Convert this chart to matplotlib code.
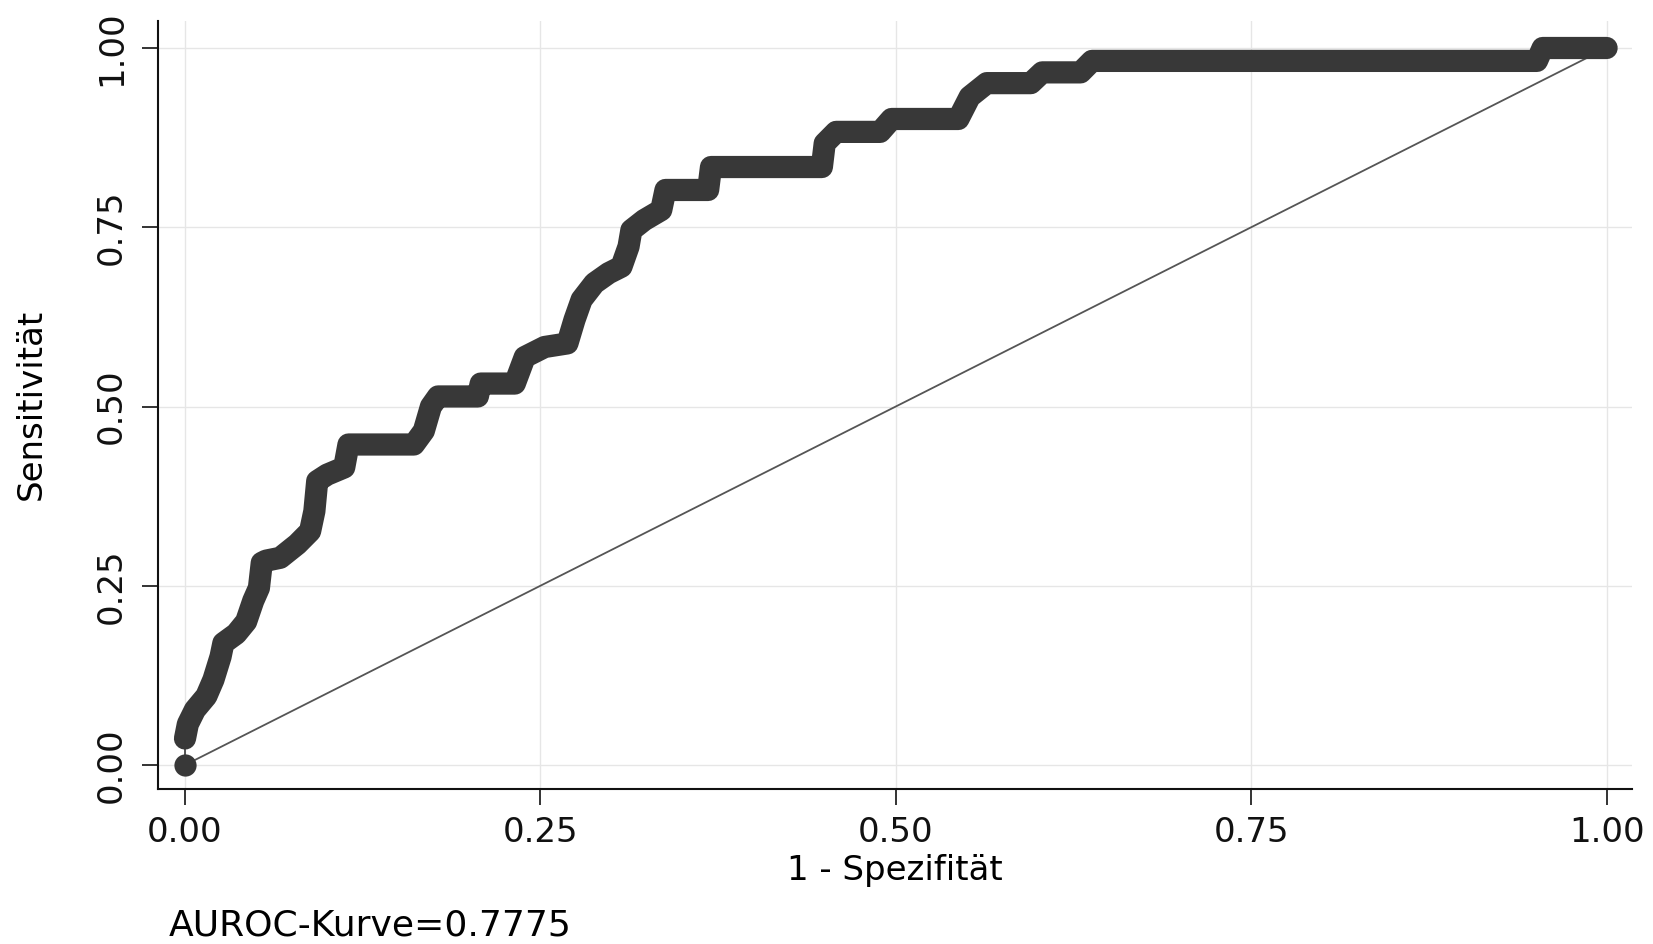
import matplotlib
matplotlib.use("Agg")
import matplotlib.pyplot as plt

plt.rcParams['font.family'] = ['DejaVu Sans']

# ROC curve vertices (1 - specificity, sensitivity)
fpr = [0.000, 0.000, 0.002, 0.007, 0.015, 0.020, 0.025, 0.027, 0.036, 0.043,
       0.048, 0.052, 0.054, 0.057, 0.067, 0.079, 0.088, 0.091, 0.093, 0.100,
       0.112, 0.115, 0.161, 0.168, 0.173, 0.178, 0.206, 0.208, 0.232, 0.239,
       0.253, 0.269, 0.274, 0.279, 0.288, 0.298, 0.307, 0.312, 0.314, 0.323,
       0.335, 0.338, 0.368, 0.370, 0.448, 0.450, 0.458, 0.489, 0.497, 0.544,
       0.552, 0.564, 0.595, 0.603, 0.630, 0.638, 0.951, 0.955, 1.000]
tpr = [0.000, 0.037, 0.057, 0.077, 0.096, 0.119, 0.151, 0.170, 0.183, 0.200,
       0.229, 0.247, 0.282, 0.285, 0.289, 0.308, 0.326, 0.354, 0.396, 0.405,
       0.415, 0.447, 0.447, 0.466, 0.500, 0.514, 0.514, 0.532, 0.532, 0.569,
       0.583, 0.588, 0.621, 0.649, 0.672, 0.686, 0.695, 0.723, 0.746, 0.760,
       0.774, 0.802, 0.802, 0.834, 0.834, 0.867, 0.883, 0.883, 0.901, 0.901,
       0.932, 0.951, 0.951, 0.966, 0.966, 0.982, 0.982, 1.000, 1.000]

ref_x = [0.0, 1.0]
ref_y = [0.0, 1.0]

ticks = [0.0, 0.25, 0.5, 0.75, 1.0]
tick_labels = ["0.00", "0.25", "0.50", "0.75", "1.00"]
xlabel = "1 - Spezifität"
ylabel = "Sensitivität"
note = "AUROC-Kurve=0.7775"

W, H = 1653, 944
fig = plt.figure(figsize=(W / 100, H / 100), dpi=100)
left, right, bottom, top = 158 / W, 1632 / W, 1 - 788.5 / H, 1 - 21 / H
ax = fig.add_axes([left, bottom, right - left, top - bottom])

x0_px, x1_px = 185.0, 1606.6
y0_px, y1_px = 765.0, 48.0
sx = x1_px - x0_px
sy = y0_px - y1_px
ax.set_xlim((158 - x0_px) / sx, (1632 - x0_px) / sx)
ax.set_ylim((y0_px - 788.5) / sy, (y0_px - 21) / sy)

curve_color = '#383838'
band = 16
ax.plot(fpr, tpr, color=curve_color, lw=1.2, zorder=3)
ax.plot(fpr[1:], tpr[1:], color=curve_color, lw=band,
        solid_capstyle='round', solid_joinstyle='round', zorder=3)
ax.plot(fpr[:1], tpr[:1], 'o', color=curve_color, ms=band, mew=0, zorder=3)
ax.plot(ref_x, ref_y, color='#555555', lw=1.3, zorder=2)

ax.set_xticks(ticks)
ax.set_xticklabels(tick_labels)
ax.set_yticks(ticks)
ax.set_yticklabels(tick_labels, rotation=90, va='center')
ax.grid(True, color='#e6e6e6', lw=1.0)
ax.set_axisbelow(True)

for s in ['top', 'right']:
    ax.spines[s].set_visible(False)
for s in ['left', 'bottom']:
    ax.spines[s].set_linewidth(1.5)
    ax.spines[s].set_color('#111111')

ax.tick_params(axis='both', direction='out', length=11.5, width=1.2,
               labelsize=24.5, colors='#111111', pad=8)
ax.tick_params(axis='y', pad=10)

ax.set_xlabel(xlabel, fontsize=24.5, labelpad=4)
ax.set_ylabel(ylabel, fontsize=24.5, labelpad=34)

fig.text(169 / W, 1 - 926 / H, note, fontsize=26, ha='left', va='center')

fig.savefig("out.png", dpi=100, facecolor='white')
